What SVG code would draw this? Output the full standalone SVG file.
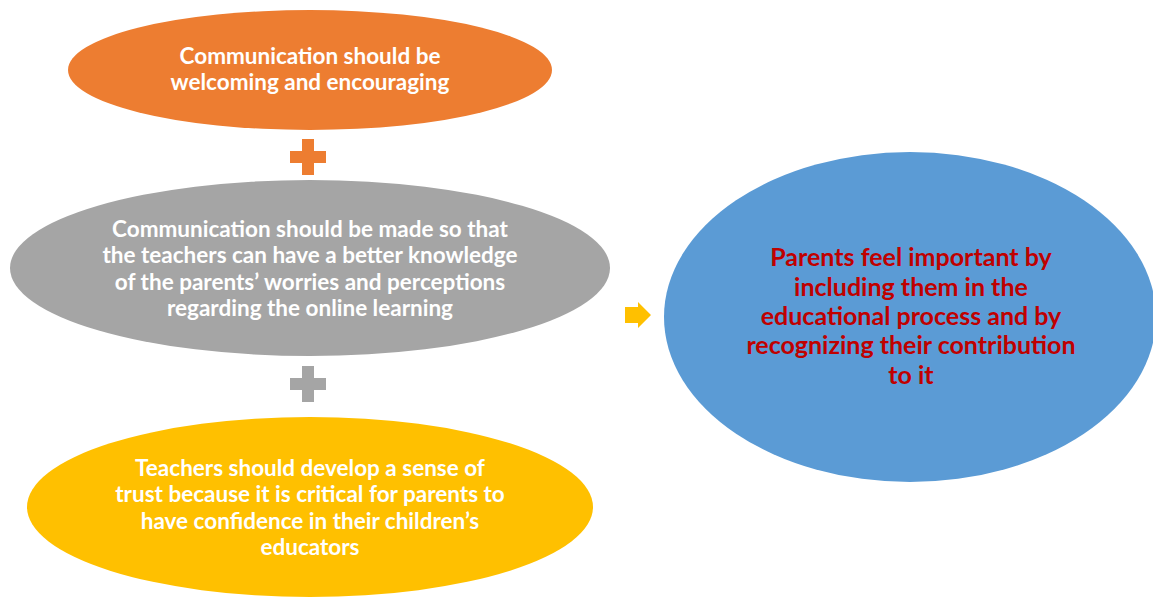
<svg xmlns="http://www.w3.org/2000/svg" width="1153" height="597" viewBox="0 0 1153 597">
<style>
.t{font-family:Lato,"Open Sans","Liberation Sans",sans-serif;font-weight:bold;font-size:22.5px;fill:#FFFFFF;text-anchor:middle}
.r{font-family:Lato,"Open Sans","Liberation Sans",sans-serif;font-weight:bold;font-size:25px;fill:#C00000;text-anchor:middle}
</style>
<rect width="1153" height="597" fill="#FFFFFF"/>
<g id="node-orange">
<ellipse cx="310" cy="70" rx="242" ry="60" fill="#ED7D31"/>
<text class="t" x="310"><tspan x="310" y="64">Communication should be</tspan><tspan x="310" y="90">welcoming and encouraging</tspan></text>
</g>
<g id="node-gray">
<ellipse cx="310" cy="268" rx="300" ry="88" fill="#A5A5A5"/>
<text class="t"><tspan x="310" y="237">Communication should be made so that</tspan><tspan x="310" y="263">the teachers can have a better knowledge</tspan><tspan x="310" y="290">of the parents’ worries and perceptions</tspan><tspan x="310" y="316">regarding the online learning</tspan></text>
</g>
<g id="node-yellow">
<ellipse cx="310" cy="507" rx="283" ry="90" fill="#FFC000"/>
<text class="t"><tspan x="310" y="476">Teachers should develop a sense of</tspan><tspan x="310" y="502">trust because it is critical for parents to</tspan><tspan x="310" y="529">have confidence in their children’s</tspan><tspan x="310" y="555">educators</tspan></text>
</g>
<g id="node-blue">
<ellipse cx="910" cy="317" rx="246" ry="165" fill="#5B9BD5"/>
<text class="r"><tspan x="911" y="266">Parents feel important by</tspan><tspan x="911" y="296">including them in the</tspan><tspan x="911" y="325">educational process and by</tspan><tspan x="911" y="354">recognizing their contribution</tspan><tspan x="911" y="384">to it</tspan></text>
</g>
<g id="connectors">
<path d="M302 139 H314 V151 H326 V163 H314 V175 H302 V163 H290 V151 H302 Z" fill="#ED7D31"/>
<path d="M302 366 H314 V378 H326 V390 H314 V402 H302 V390 H290 V378 H302 Z" fill="#A5A5A5"/>
<path d="M625 307 H638 V302 L651 315 L638 328 V323 H625 Z" fill="#FFC000"/>
</g>
</svg>
